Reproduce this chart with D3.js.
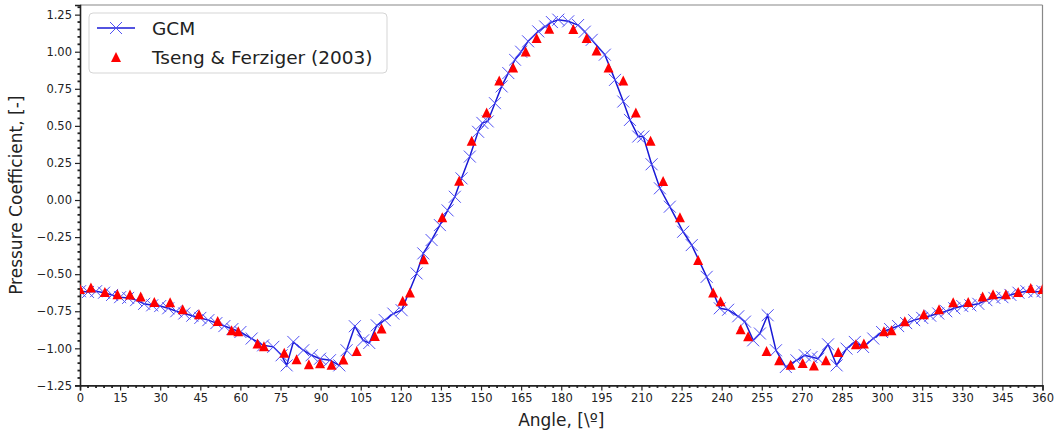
<!DOCTYPE html>
<html><head><meta charset="utf-8">
<script src="https://cdn.jsdelivr.net/npm/d3@7"></script>
<style>body{margin:0;background:#fff}svg{display:block;font-family:"DejaVu Sans",sans-serif}</style>
</head><body><svg id="c" width="1059" height="432"></svg>
<script>
const xTicks = d3.range(0, 361, 15);
const yTicks = [-1.25,-1.0,-0.75,-0.5,-0.25,0,0.25,0.5,0.75,1.0,1.25];
const seriesNames = ["GCM", "Tseng & Ferziger (2003)"];
const gcmAngle = [0,3,6,9,12,15,18,21,24,27,30,33,36,39,42,45,48,51,54,57,60,64.2,68.5,72.3,75.4,77.3,79.8,83.5,86.6,89.8,93.5,97,99.7,102.8,105.9,108.2,111,114,117.2,120.3,125.9,128.4,131.5,134.6,137.5,140.2,142.7,145.8,148.9,150.5,152.5,155.2,157.7,160.2,162.7,165,167.6,171.4,174,176.5,178.9,182.6,186.3,188.8,191.4,196.3,200.1,203.2,205.7,208.8,210.7,213.8,216.9,220.6,225.6,228.8,234.4,239.3,242.4,246.2,248.7,251.8,254.3,257.2,260.3,264,268,271.1,273.6,276.1,279.8,283,286.7,289.8,292.9,296.7,300,303,306,309,312,315,318,321,324,327,330,333,336,339,342,345,348,351,354,357,360];
const gcmCp = [-0.615,-0.62,-0.615,-0.625,-0.64,-0.655,-0.66,-0.675,-0.70,-0.71,-0.715,-0.73,-0.75,-0.765,-0.78,-0.795,-0.81,-0.83,-0.85,-0.87,-0.89,-0.934,-0.98,-0.99,-1.047,-1.115,-0.957,-1.013,-1.047,-1.07,-1.08,-1.115,-1.013,-0.851,-0.946,-0.964,-0.845,-0.81,-0.766,-0.743,-0.495,-0.36,-0.27,-0.169,-0.07,0.022,0.146,0.293,0.46,0.52,0.53,0.653,0.766,0.856,0.946,1.0,1.07,1.137,1.17,1.2,1.216,1.205,1.18,1.135,1.08,0.98,0.81,0.664,0.54,0.428,0.428,0.241,0.079,-0.045,-0.214,-0.304,-0.518,-0.73,-0.74,-0.784,-0.82,-0.946,-0.90,-0.777,-1.013,-1.126,-1.081,-1.047,-1.059,-1.07,-0.973,-1.115,-1.002,-0.957,-0.991,-0.934,-0.89,-0.87,-0.85,-0.83,-0.81,-0.795,-0.78,-0.765,-0.75,-0.73,-0.715,-0.71,-0.70,-0.675,-0.66,-0.655,-0.64,-0.625,-0.615,-0.62,-0.615];
const triAngle = [0,4.1,9.3,14,18.7,22.7,27.8,33.7,38.4,44.5,51.5,56.7,59.2,66.4,68.8,76.4,81,85.6,89.8,94.1,98.5,103.5,110.3,112.8,120.7,123.4,128.6,135.5,141.8,146.5,152.1,156.8,162,166.7,170.8,175.5,184.5,189.5,193.2,197.7,203.2,207.9,213.4,218.1,224.4,231.2,236.8,239.6,247.1,249.9,256.8,261.5,265.8,270.3,274.5,279,283.6,290.2,293.2,300.7,303.5,308.5,315.6,321.3,326.6,332.2,337.6,341.5,346.3,350.9,355.6,360];
const triCp = [-0.60,-0.59,-0.62,-0.635,-0.637,-0.65,-0.687,-0.69,-0.736,-0.77,-0.815,-0.878,-0.885,-0.968,-0.986,-1.03,-1.074,-1.108,-1.10,-1.11,-1.076,-1.018,-0.917,-0.867,-0.68,-0.624,-0.40,-0.117,0.13,0.40,0.59,0.806,0.894,1.002,1.092,1.155,1.153,1.093,1.009,0.894,0.806,0.59,0.40,0.128,-0.117,-0.405,-0.624,-0.682,-0.872,-0.919,-1.018,-1.081,-1.11,-1.099,-1.115,-1.081,-1.025,-0.973,-0.968,-0.885,-0.878,-0.818,-0.77,-0.736,-0.69,-0.687,-0.65,-0.635,-0.635,-0.62,-0.593,-0.60];

const svg = d3.select("#c");
const L = 80, R = 1042.5, T = 5, B = 385.4;
const x = d3.scaleLinear().domain([0, 360]).range([L, R]);
const y = d3.scaleLinear().domain([-1.25, 1.315]).range([B, T]);

// minor ticks
const gMinor = svg.append("g");
d3.range(0, 361, 3).filter(d => d % 15 !== 0).forEach(d => {
  gMinor.append("line").attr("x1", x(d)).attr("x2", x(d)).attr("y1", B).attr("y2", B + 2.5)
    .attr("stroke", "#222").attr("stroke-width", 1.8);
});
d3.range(-125, 131, 5).filter(d => d % 25 !== 0).forEach(d => {
  gMinor.append("line").attr("y1", y(d / 100)).attr("y2", y(d / 100)).attr("x1", L).attr("x2", L - 2.5)
    .attr("stroke", "#222").attr("stroke-width", 1.8);
});

// frame (top/right gray)
svg.append("line").attr("x1", L).attr("x2", R).attr("y1", T).attr("y2", T).attr("stroke", "#888").attr("stroke-width", 1.2);
svg.append("line").attr("x1", R).attr("x2", R).attr("y1", T).attr("y2", B).attr("stroke", "#888").attr("stroke-width", 1.2);

const gx = svg.append("g").attr("transform", `translate(0,${B})`)
  .call(d3.axisBottom(x).tickValues(xTicks).tickSize(5).tickPadding(3).tickFormat(d3.format("d")));
const gy = svg.append("g").attr("transform", `translate(${L},0)`)
  .call(d3.axisLeft(y).tickValues(yTicks).tickSize(5).tickPadding(3).tickFormat(d3.format(".2f")));
[gx, gy].forEach(g => {
  g.select(".domain").attr("stroke", "#222").attr("stroke-width", 1.6);
  g.selectAll(".tick line").attr("stroke", "#222").attr("stroke-width", 1.2);
  g.selectAll(".tick text").attr("fill", "#222").style("font-size", "11.5px").style("font-family", "DejaVu Sans");
});

svg.append("text").attr("x", (L + R) / 2).attr("y", 426).attr("text-anchor", "middle")
  .style("font-size", "17px").attr("fill", "#222").text("Angle, [\\º]");
svg.append("text").attr("transform", `translate(22,${(T + B) / 2}) rotate(-90)`).attr("text-anchor", "middle")
  .style("font-size", "17px").attr("fill", "#222").text("Pressure Coefficient, [-]");

const clip = svg.append("clipPath").attr("id", "clp").append("rect")
  .attr("x", L).attr("y", T).attr("width", R - L).attr("height", B - T);
const plot = svg.append("g").attr("clip-path", "url(#clp)");

const gcm = gcmAngle.map((a, i) => [a, gcmCp[i]]);
const tri = triAngle.map((a, i) => [a, triCp[i]]);

plot.append("path").datum(gcm)
  .attr("d", d3.line().x(d => x(d[0])).y(d => y(d[1])))
  .attr("fill", "none").attr("stroke", "#1a1ad6").attr("stroke-width", 1.5);
const xs = 6;
plot.append("g").selectAll("path").data(gcm).join("path")
  .attr("d", d => `M${x(d[0]) - xs},${y(d[1]) - xs}L${x(d[0]) + xs},${y(d[1]) + xs}M${x(d[0]) - xs},${y(d[1]) + xs}L${x(d[0]) + xs},${y(d[1]) - xs}`)
  .attr("stroke", "#5050f4").attr("stroke-width", 1).attr("fill", "none");
const ts = 5;
plot.append("g").selectAll("path").data(tri).join("path")
  .attr("d", d => `M${x(d[0])},${y(d[1]) - ts}L${x(d[0]) - ts},${y(d[1]) + ts}L${x(d[0]) + ts},${y(d[1]) + ts}Z`)
  .attr("fill", "#ff0000");

// legend
const lg = svg.append("g");
lg.append("rect").attr("x", 89).attr("y", 13).attr("width", 298).attr("height", 60).attr("rx", 4)
  .attr("fill", "#fff").attr("fill-opacity", 0.85).attr("stroke", "#d5d5d5").attr("stroke-width", 1);
lg.append("line").attr("x1", 97).attr("x2", 135).attr("y1", 28).attr("y2", 28).attr("stroke", "#1a1ad6").attr("stroke-width", 1.5);
lg.append("path").attr("d", `M${116 - xs},${28 - xs}L${116 + xs},${28 + xs}M${116 - xs},${28 + xs}L${116 + xs},${28 - xs}`)
  .attr("stroke", "#5050f4").attr("stroke-width", 1);
lg.append("path").attr("d", `M116,${57 - ts}L${116 - ts},${57 + ts}L${116 + ts},${57 + ts}Z`).attr("fill", "#ff0000");
lg.append("text").attr("x", 152).attr("y", 34.5).style("font-size", "18.5px").attr("fill", "#222").text(seriesNames[0]);
lg.append("text").attr("x", 152).attr("y", 63.5).style("font-size", "18.5px").attr("fill", "#222").text(seriesNames[1]);
</script></body></html>
